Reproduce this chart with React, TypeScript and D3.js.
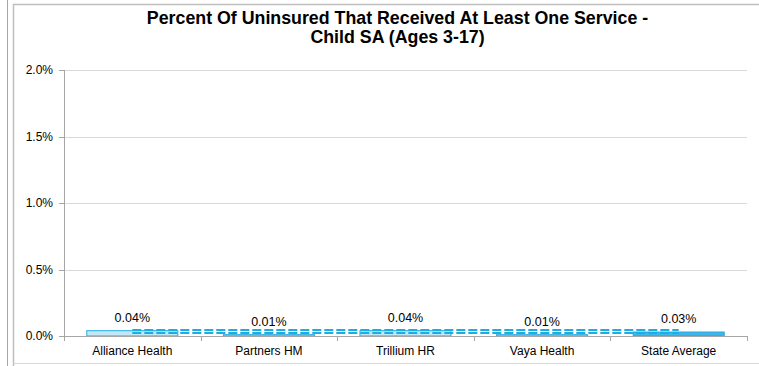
import React from "react";
import * as d3 from "d3";

// Category names and percent values (in %)
const categories = ["Alliance Health", "Partners HM", "Trillium HR", "Vaya Health", "State Average"];
const values = [0.04, 0.01, 0.04, 0.01, 0.03];
const valueLabels = ["0.04%", "0.01%", "0.04%", "0.01%", "0.03%"];
const stateAverage = 0.03;
const yTicks = [0, 0.5, 1.0, 1.5, 2.0];
const titleLines = ["Percent Of Uninsured That Received At Least One Service -", "Child SA (Ages 3-17)"];

const W = 759;
const H = 366;
const FONT = "Liberation Sans, Arial, sans-serif";

export default function App() {
  const plot = { left: 64, right: 747, top: 70, bottom: 336 };

  const x = d3.scaleBand<string>().domain(categories).range([plot.left, plot.right]).paddingInner(0).paddingOuter(0);
  const bw = x.bandwidth();
  const barW = bw / 1.5;
  const y = d3.scaleLinear().domain([0, 2.0]).range([plot.bottom, plot.top]);

  const fmt = d3.format(".1f");
  const lineX0 = (x(categories[0]) as number) + bw / 2;
  const lineX1 = (x(categories[categories.length - 1]) as number) + bw / 2;
  const avgY = y(stateAverage);

  return (
    <svg width={W} height={H} style={{ position: "absolute", left: 0, top: 0, fontFamily: FONT }}>
      <rect x={0} y={0} width={W} height={H} fill="#fff" />
      {/* outer frames */}
      <line x1={7.5} x2={7.5} y1={0} y2={H} stroke="#a6a6a6" />
      <path d={`M13.5,${H} V4.5 H${W}`} fill="none" stroke="#bfbfbf" strokeWidth={1.5} />
      <line x1={13.5} x2={W} y1={363.5} y2={363.5} stroke="#d9d9d9" />

      {/* title */}
      <text x={397} textAnchor="middle" fontWeight="bold" fontSize={17.8} fill="#000">
        {titleLines.map((t, i) => (
          <tspan key={i} x={397.5} y={24 + i * 19}>{t}</tspan>
        ))}
      </text>

      {/* gridlines and y axis */}
      {yTicks.map((t) => (
        <g key={t}>
          {t > 0 && (
            <line x1={plot.left} x2={plot.right} y1={Math.round(y(t)) + 0.5} y2={Math.round(y(t)) + 0.5} stroke="#d9d9d9" />
          )}
          <line x1={plot.left - 5} x2={plot.left} y1={Math.round(y(t)) + 0.5} y2={Math.round(y(t)) + 0.5} stroke="#a6a6a6" />
          <text x={53} y={y(t)} dy="0.35em" textAnchor="end" fontSize={12} fill="#000">
            {fmt(t) + "%"}
          </text>
        </g>
      ))}
      <line x1={plot.left + 0.5} x2={plot.left + 0.5} y1={plot.top} y2={plot.bottom} stroke="#a6a6a6" />

      {/* bars */}
      {categories.map((c, i) => {
        const bx = (x(c) as number) + (bw - barW) / 2;
        const top = y(values[i]);
        const isAvg = c === "State Average";
        return (
          <rect
            key={c}
            x={bx}
            y={top}
            width={barW}
            height={plot.bottom - top}
            fill={isAvg ? "#3db6ea" : "#c2e8f8"}
            stroke="#29abe2"
            strokeWidth={1}
          />
        );
      })}

      {/* state average reference line (double dashed) */}
      {[-1.5, 1.5].map((off) => (
        <line
          key={off}
          x1={lineX0}
          x2={lineX1}
          y1={avgY + off - 0.5}
          y2={avgY + off - 0.5}
          stroke="#1aaee5"
          strokeWidth={2}
          strokeDasharray="9,3"
        />
      ))}

      {/* x axis */}
      <line x1={plot.left} x2={plot.right + 1} y1={plot.bottom + 0.5} y2={plot.bottom + 0.5} stroke="#a6a6a6" />
      {d3.range(categories.length + 1).map((i) => {
        const tx = Math.round(plot.left + i * bw) + 0.5;
        return <line key={i} x1={tx} x2={tx} y1={plot.bottom} y2={plot.bottom + 5} stroke="#a6a6a6" />;
      })}
      {categories.map((c) => (
        <text key={c} x={(x(c) as number) + bw / 2} y={355} textAnchor="middle" fontSize={12} fill="#000">
          {c}
        </text>
      ))}

      {/* value labels */}
      {categories.map((c, i) => (
        <text key={c} x={(x(c) as number) + bw / 2} y={y(values[i]) - 9} textAnchor="middle" fontSize={12.5} fill="#000">
          {valueLabels[i]}
        </text>
      ))}
    </svg>
  );
}
